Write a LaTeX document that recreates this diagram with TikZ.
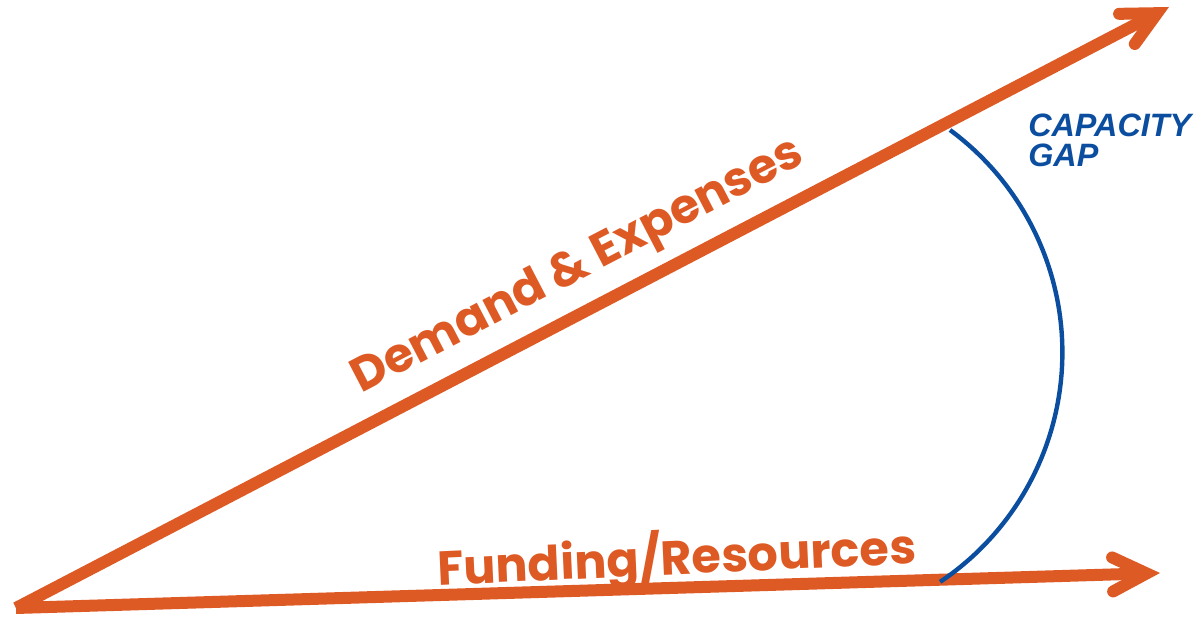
\documentclass[tikz,border=0pt]{standalone}
\usepackage{fontspec}
\usepackage{tikz}
\usetikzlibrary{arrows.meta}
\newfontfamily\poppins{Poppins}
\setmainfont{Liberation Sans}
\definecolor{trendorange}{HTML}{DE5A25}
\definecolor{gapblue}{HTML}{0B4E9F}

\begin{document}
\begin{tikzpicture}[x=1cm,y=1cm,
  trend/.style={draw=trendorange,line width=0.30cm,
    -{Straight Barb[length=0.85cm,width=0.85cm,line cap=round]}},
  trendlabel/.style={text=trendorange,anchor=base,inner sep=0pt,
    font=\poppins\bfseries\fontsize{34}{40}\selectfont},
  gaparc/.style={draw=gapblue,line width=0.11cm},
  gaplabel/.style={text=gapblue,anchor=north west,align=left,inner sep=0pt,
    font=\bfseries\itshape\fontsize{23}{22}\selectfont}
]
\path[use as bounding box] (0,0) rectangle (30.025,15.45);

% Common start and the two arrow ends
\coordinate (origin) at (0.40,0.25);
\coordinate (demandtip) at (29.225,15.275);
\coordinate (fundingtip) at (29.00,1.125);

% Growth arrows
\draw[trend] (origin) -- (demandtip);
\draw[trend] (origin) -- (fundingtip);

% Labels set along the arrows
\node[trendlabel,rotate=27.5] (demand) at (14.60,8.50) {Demand \& Expenses};
\node[trendlabel,rotate=2.6] (funding) at (16.94,1.09) {Funding/Resources};

% Gap between the two arrows
\coordinate (gaptop) at (23.75,12.20);
\draw[gaparc] (gaptop) arc[start angle=53.6,end angle=-56.1,radius=6.91];
\node[gaplabel] (gap) at (25.70,12.62) {CAPACITY\\GAP};

\end{tikzpicture}
\end{document}
